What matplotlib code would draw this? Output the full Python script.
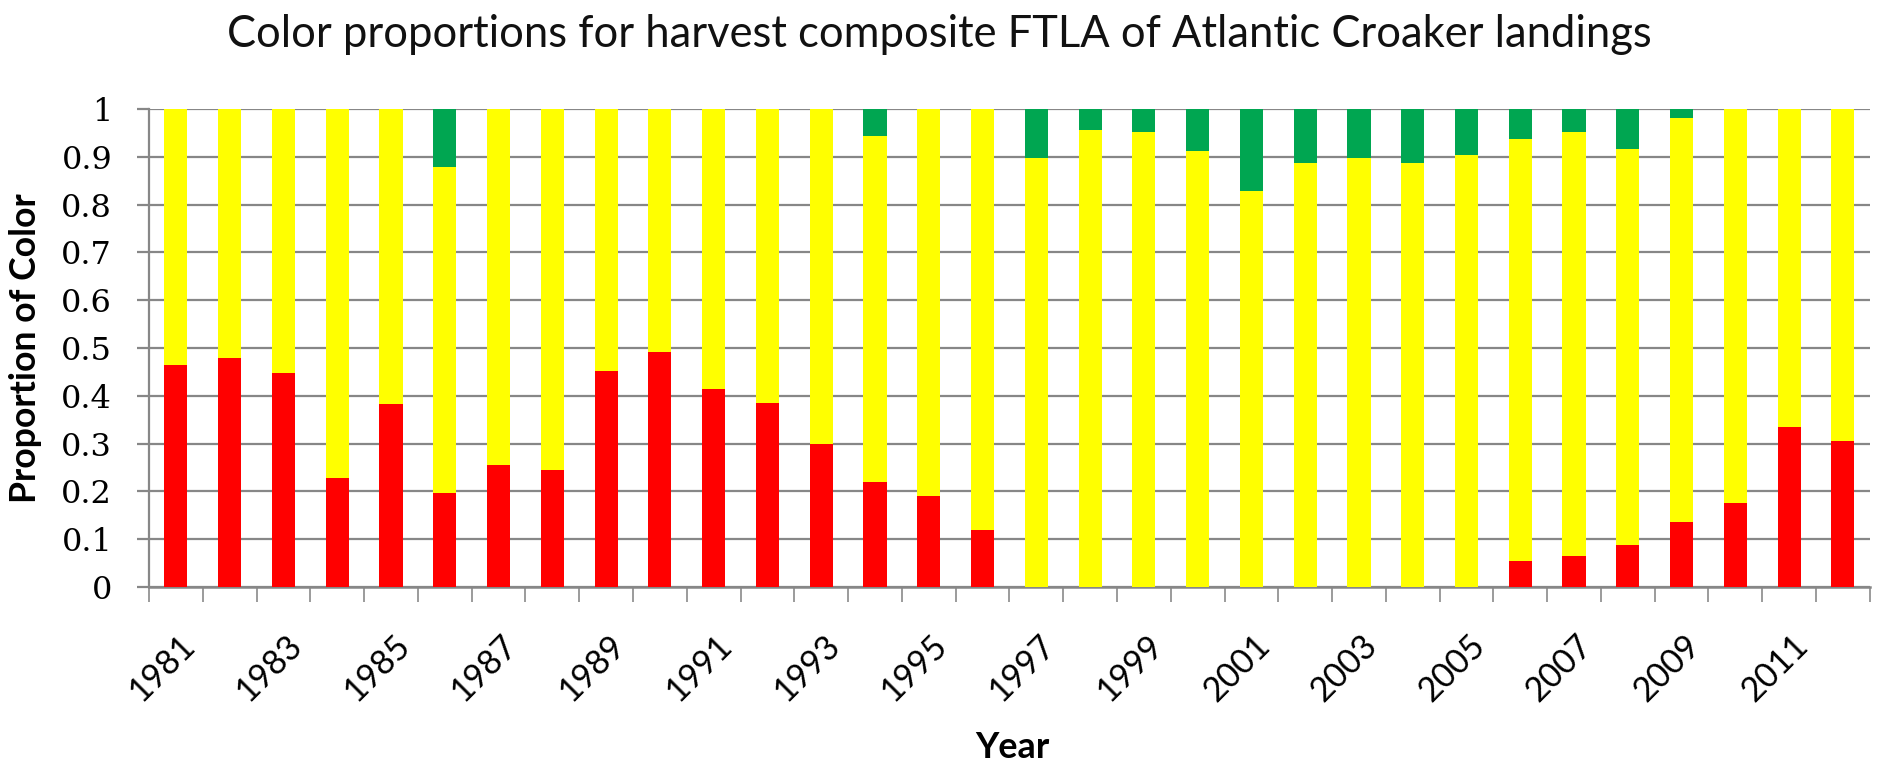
import matplotlib
matplotlib.use("Agg")
import matplotlib.pyplot as plt
import matplotlib.transforms as mtransforms
import numpy as np

years = list(range(1981, 2013))
red = [0.465, 0.48, 0.448, 0.229, 0.383, 0.197, 0.255, 0.245, 0.452, 0.491,
       0.415, 0.385, 0.30, 0.22, 0.19, 0.12, 0.0, 0.0, 0.0, 0.0,
       0.0, 0.0, 0.0, 0.0, 0.0, 0.055, 0.065, 0.088, 0.135, 0.175,
       0.335, 0.305]
green = [0.0, 0.0, 0.0, 0.0, 0.0, 0.122, 0.0, 0.0, 0.0, 0.0,
         0.0, 0.0, 0.0, 0.057, 0.0, 0.0, 0.103, 0.043, 0.048, 0.087,
         0.172, 0.112, 0.103, 0.112, 0.097, 0.063, 0.048, 0.083, 0.018, 0.0,
         0.0, 0.0]
yellow = [1.0 - r - g for r, g in zip(red, green)]
tick_years = [str(y) if (y - 1981) % 2 == 0 else "" for y in years]

plt.rcParams['font.family'] = ['Lato', 'DejaVu Sans']

fig = plt.figure(figsize=(18.91, 7.67), dpi=100)
ax = fig.add_axes([0.0788, 0.2347, 0.910, 0.623])

x = np.arange(len(years))
w = 0.43
ax.bar(x, red, width=w, color='#FF0000', zorder=3)
ax.bar(x, yellow, width=w, bottom=red, color='#FFFF00', zorder=3)
ax.bar(x, green, width=w, bottom=[r + yv for r, yv in zip(red, yellow)],
       color='#00A651', zorder=3)

ax.set_xlim(-0.5, len(years) - 0.5)
ax.set_ylim(0, 1)
yt = np.round(np.arange(0, 1.01, 0.1), 1)
ax.set_yticks(yt)
ax.set_yticklabels(['0'] + [f"{v:.1f}" for v in yt[1:-1]] + ['1'],
                   fontsize=23, family=['DejaVu Serif'])
ax.yaxis.grid(True, color='#878787', linewidth=1.6, zorder=0)

ax.set_xticks(x)
ax.set_xticklabels(tick_years, rotation=45, ha='right', va='top',
                   rotation_mode='anchor', fontsize=24.5)
ax.tick_params(axis='x', which='major', length=0, pad=30)
offset = mtransforms.ScaledTranslation(2 / 100, 0, fig.dpi_scale_trans)
for lab in ax.get_xticklabels():
    lab.set_transform(lab.get_transform() + offset)
ax.set_xticks(np.arange(-0.5, len(years) + 0.5, 1), minor=True)
ax.tick_params(axis='x', which='minor', length=11, color='#8A8A8A', width=1.2)
ax.tick_params(axis='y', length=8.5, color='#878787', width=1.6, pad=18)

for s in ['top', 'right']:
    ax.spines[s].set_visible(False)
ax.spines['left'].set_color('#878787')
ax.spines['left'].set_linewidth(1.6)
ax.spines['bottom'].set_color('#878787')
ax.spines['bottom'].set_linewidth(1.8)

ylab = ax.set_ylabel('Proportion of Color', fontsize=25, fontweight='bold')
ax.yaxis.set_label_coords(-0.0622, 0.5)
xlab = ax.set_xlabel('Year', fontsize=26, fontweight='bold')
ax.xaxis.set_label_coords(0.5015, -0.302)

title = fig.text(0.497, 0.9387,
                 'Color proportions for harvest composite FTLA of Atlantic Croaker landings',
                 fontsize=33, ha='center', va='baseline', color='#111111')

# fit text sizes to the measured extents of the reference (pixels)
fig.canvas.draw()
renderer = fig.canvas.get_renderer()


def fit(txt, target, use_height=False):
    for _ in range(3):
        bb = txt.get_window_extent(renderer)
        cur = bb.height if use_height else bb.width
        if cur > 0:
            txt.set_fontsize(txt.get_fontsize() * target / cur)


fit(title, 1425)
fit(ylab, 310, use_height=True)
fit(xlab, 74)

fig.savefig('out.png', dpi=100)
